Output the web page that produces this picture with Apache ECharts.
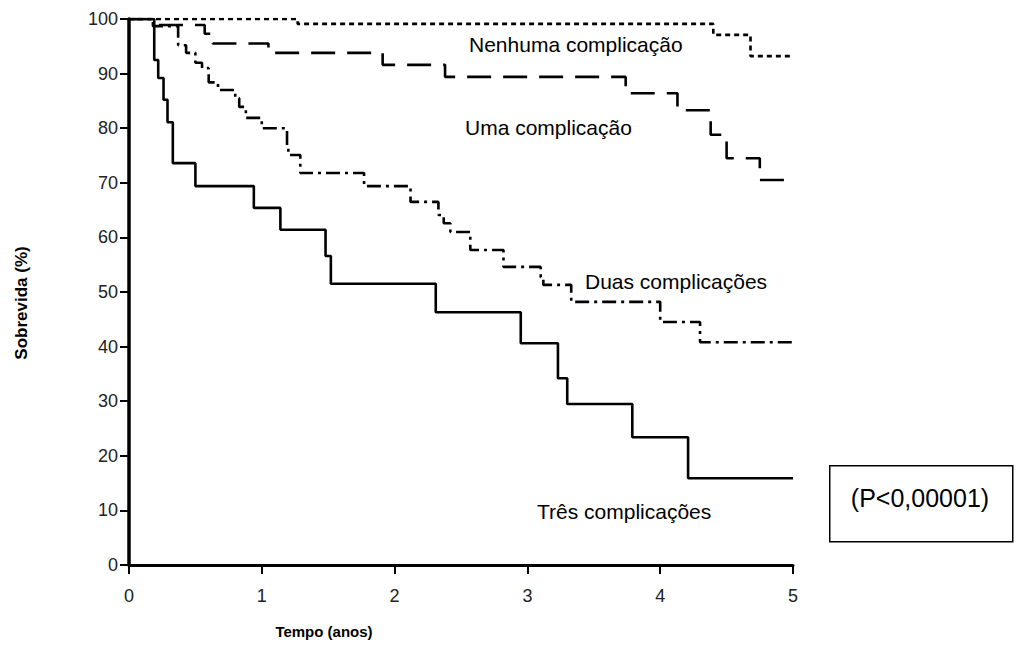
<!DOCTYPE html>
<html><head><meta charset="utf-8">
<script src="https://cdn.jsdelivr.net/npm/echarts@6/dist/echarts.min.js"></script>
<style>html,body{margin:0;padding:0;background:#fff}#c{width:1016px;height:648px}</style>
</head><body><div id="c"></div>
<script>
// Time (years) of each step, and survival (%) from that time onward
const nenhumaT = [0, 1.27, 4.4, 4.68, 5];
const nenhumaS = [100, 99.1, 97.1, 93.2, 93.2];
const umaT = [0, 0.22, 0.57, 0.63, 1.05, 1.91, 2.38, 3.74, 4.13, 4.38, 4.5, 4.75, 5];
const umaS = [100, 98.9, 97.3, 95.5, 93.8, 91.6, 89.4, 86.4, 83.3, 78.8, 74.5, 70.5, 70.5];
const duasT = [0, 0.18, 0.37, 0.43, 0.5, 0.55, 0.6, 0.67, 0.8, 0.83, 0.88, 1.0, 1.19, 1.2, 1.29, 1.77, 2.12, 2.33, 2.37, 2.42, 2.57, 2.82, 3.1, 3.12, 3.33, 4.0, 4.3, 5];
const duasS = [100, 98.7, 95.2, 93.8, 92, 91, 88.4, 87, 85.5, 83.9, 81.9, 80, 76.5, 75.1, 71.8, 69.4, 66.5, 64.1, 62.6, 61, 57.7, 54.6, 52.7, 51.3, 48.2, 44.5, 40.8, 40.8];
const tresT = [0, 0.19, 0.22, 0.26, 0.29, 0.33, 0.5, 0.94, 1.14, 1.48, 1.52, 2.31, 2.95, 3.23, 3.3, 3.79, 4.21, 5];
const tresS = [100, 92.5, 89.2, 85.2, 81.1, 73.6, 69.4, 65.4, 61.4, 56.6, 51.5, 46.3, 40.6, 34.2, 29.5, 23.4, 15.9, 15.9];
const seriesNames = ['Nenhuma complicação', 'Uma complicação', 'Duas complicações', 'Três complicações'];
const xTicks = [0, 1, 2, 3, 4, 5];
const yTicks = [0, 10, 20, 30, 40, 50, 60, 70, 80, 90, 100];
const xTitle = 'Tempo (anos)';
const yTitle = 'Sobrevida (%)';
const pText = '(P<0,00001)';

function pts(t, s) { return t.map((v, i) => [v, s[i]]); }
const F = 'Liberation Sans, Arial, sans-serif';
const chart = echarts.init(document.getElementById('c'), null, {renderer: 'svg'});
const mk = (name, t, s, type) => ({
  name, type: 'line', step: 'end', data: pts(t, s), showSymbol: false, symbol: 'none',
  lineStyle: {color: '#000', width: 2.6, type}, animation: false, z: 3
});
chart.setOption({
  animation: false,
  backgroundColor: '#fff',
  grid: {left: 129, right: 223, top: 19, bottom: 83, containLabel: false},
  xAxis: {
    type: 'value', min: 0, max: 5, interval: 1,
    axisLine: {show: true, onZero: false, lineStyle: {color: '#000', width: 3}},
    axisTick: {show: true, length: 9, lineStyle: {color: '#000', width: 2}},
    axisLabel: {margin: 22, color: '#222', fontSize: 18, fontFamily: F, formatter: v => xTicks.includes(v) ? String(v) : ''},
    splitLine: {show: false}
  },
  yAxis: {
    type: 'value', min: 0, max: 100, interval: 10,
    axisLine: {show: true, onZero: false, lineStyle: {color: '#000', width: 3.5}},
    axisTick: {show: true, length: 9, lineStyle: {color: '#000', width: 2}},
    axisLabel: {margin: 11, color: '#222', fontSize: 18, fontFamily: F, formatter: v => yTicks.includes(v) ? String(v) : ''},
    splitLine: {show: false}
  },
  series: [
    mk(seriesNames[0], nenhumaT, nenhumaS, [5, 4]),
    mk(seriesNames[1], umaT, umaS, [24, 12]),
    mk(seriesNames[2], duasT, duasS, [14, 5, 3, 5]),
    mk(seriesNames[3], tresT, tresS, 'solid')
  ],
  graphic: [
    {type: 'text', x: 324, y: 631, z: 10, style: {text: xTitle, font: 'bold 15px ' + F, fill: '#000', textAlign: 'center', textVerticalAlign: 'middle'}},
    {type: 'text', x: 21, y: 303, rotation: Math.PI / 2, z: 10, style: {text: yTitle, font: 'bold 17px ' + F, fill: '#000', textAlign: 'center', textVerticalAlign: 'middle'}},
    {type: 'text', left: 469, top: 34, z: 10, style: {text: seriesNames[0], font: '21px ' + F, fill: '#000'}},
    {type: 'text', left: 465, top: 117, z: 10, style: {text: seriesNames[1], font: '21px ' + F, fill: '#000'}},
    {type: 'text', left: 585, top: 271, z: 10, style: {text: seriesNames[2], font: '21px ' + F, fill: '#000'}},
    {type: 'text', left: 537, top: 501, z: 10, style: {text: seriesNames[3], font: '21px ' + F, fill: '#000'}},
    {type: 'rect', left: 829, top: 465, z: 10, shape: {width: 183, height: 76}, style: {fill: '#fff', stroke: '#000', lineWidth: 1.5}},
    {type: 'text', x: 920, y: 498, z: 11, style: {text: pText, font: '25px ' + F, fill: '#000', textAlign: 'center', textVerticalAlign: 'middle'}}
  ]
});
</script></body></html>
